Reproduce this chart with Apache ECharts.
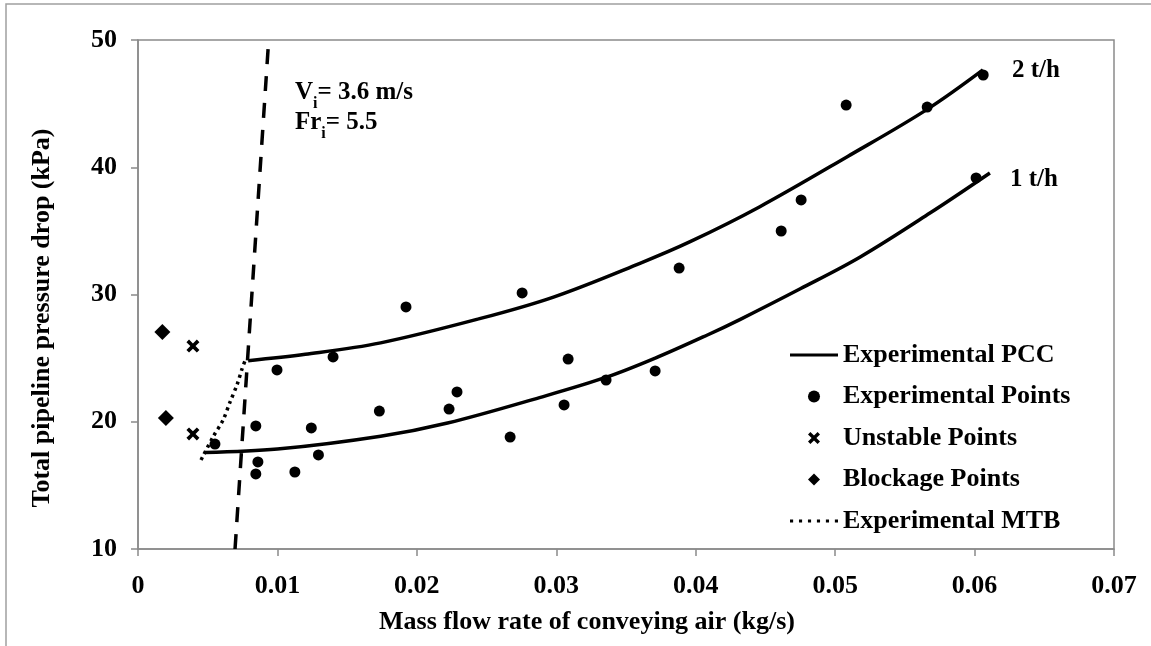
<!DOCTYPE html>
<html>
<head>
<meta charset="utf-8">
<script src="https://cdn.jsdelivr.net/npm/echarts@6/dist/echarts.min.js"></script>
<style>
html,body{margin:0;padding:0;background:#fff;}
#chart{width:1151px;height:646px;}
</style>
</head>
<body>
<div id="chart"></div>
<script>
// ---- data ----
var xTickLabels = ['0', '0.01', '0.02', '0.03', '0.04', '0.05', '0.06', '0.07'];
var yTickLabels = ['10', '20', '30', '40', '50'];

// Experimental points (kg/s, kPa)
var expPoints = [
  [0.00552, 18.25], [0.00997, 24.07], [0.01399, 25.09], [0.00845, 19.67],
  [0.00860, 16.84], [0.00845, 15.90], [0.01125, 16.05], [0.01243, 19.51],
  [0.01294, 17.39], [0.01731, 20.84], [0.01922, 29.02], [0.02231, 21.00],
  [0.02288, 22.34], [0.02669, 18.80], [0.02755, 30.12], [0.03056, 21.32],
  [0.03085, 24.93], [0.03357, 23.28], [0.03709, 23.99], [0.03881, 32.08],
  [0.04613, 34.99], [0.04756, 37.43], [0.05079, 44.89], [0.05660, 44.73],
  [0.06062, 47.25], [0.06011, 39.16]
];
var unstablePoints = [[0.00394, 25.95], [0.00394, 19.04]];
var blockagePoints = [[0.00175, 27.05], [0.00200, 20.30]];

// Experimental PCC curves
var pcc1 = [
  [0.0048, 17.58], [0.0100, 17.85], [0.0174, 18.86], [0.0222, 19.90],
  [0.0288, 21.90], [0.0336, 23.50], [0.0371, 25.00], [0.0408, 26.80],
  [0.0432, 28.05], [0.0475, 30.45], [0.0518, 32.95], [0.0568, 36.40],
  [0.0611, 39.55]
];
var pcc2 = [
  [0.0079, 24.80], [0.0120, 25.30], [0.0174, 26.20], [0.0245, 28.10],
  [0.0298, 29.80], [0.0360, 32.45], [0.0396, 34.15], [0.0446, 36.90],
  [0.0509, 40.85], [0.0566, 44.55], [0.0606, 47.65]
];
// Experimental MTB (dotted)
var mtb = [
  [0.00452, 17.00], [0.00538, 18.80], [0.00610, 20.14], [0.00660, 21.55],
  [0.00710, 22.90], [0.00746, 24.15], [0.00768, 24.80]
];
// V_i = 3.6 m/s line (dashed)
var viLine = [[0.00696, 10.0], [0.00933, 49.3]];

var FONT = "'Liberation Serif', 'Times New Roman', serif";
var chart = echarts.init(document.getElementById('chart'));

var option = {
  backgroundColor: '#ffffff',
  animation: false,
  grid: {
    left: 138, right: 37, top: 40, bottom: 97,
    show: true, borderColor: '#8a8a8a', borderWidth: 1.5, backgroundColor: 'transparent'
  },
  xAxis: {
    type: 'value', min: 0, max: 0.07, interval: 0.01,
    axisLine: { show: true, lineStyle: { color: '#8a8a8a', width: 1.5 } },
    axisTick: { show: true, inside: false, length: 7, lineStyle: { color: '#8a8a8a', width: 1.5 } },
    splitLine: { show: false },
    axisLabel: {
      margin: 24, color: '#000', fontFamily: FONT, fontWeight: 'bold', fontSize: 26,
      formatter: function (v) { return xTickLabels[Math.round(v / 0.01)]; }
    }
  },
  yAxis: {
    type: 'value', min: 10, max: 50, interval: 10,
    axisLine: { show: true, lineStyle: { color: '#8a8a8a', width: 1.5 } },
    axisTick: { show: true, inside: false, length: 7, lineStyle: { color: '#8a8a8a', width: 1.5 } },
    splitLine: { show: false },
    axisLabel: {
      margin: 21, color: '#000', fontFamily: FONT, fontWeight: 'bold', fontSize: 26,
      formatter: function (v) { return yTickLabels[Math.round((v - 10) / 10)]; }
    }
  },
  legend: {
    orient: 'vertical', left: 790, top: 341, padding: 0,
    itemWidth: 48, itemHeight: 12, itemGap: 13.5, symbolKeepAspect: true,
    textStyle: { color: '#000', fontFamily: FONT, fontWeight: 'bold', fontSize: 26, lineHeight: 28 },
    data: [
      { name: 'Experimental PCC', icon: 'path://M0,0H48V3H0Z' },
      { name: 'Experimental Points', icon: 'path://M5,0A5,5,0,1,1,4.99,0Z' },
      { name: 'Unstable Points' },
      { name: 'Blockage Points', icon: 'path://M5,0L10,5L5,10L0,5Z' },
      { name: 'Experimental MTB',
        icon: 'path://M0,0h3v3h-3zM8.6,0h3v3h-3zM17.2,0h3v3h-3zM25.8,0h3v3h-3zM34.4,0h3v3h-3zM43,0h3v3h-3z' }
    ]
  },
  series: [
    {
      name: 'Experimental PCC', type: 'line', data: pcc1, smooth: 0.35, symbol: 'none',
      lineStyle: { color: '#000', width: 3.5 }, itemStyle: { color: '#000' }, z: 3
    },
    {
      name: 'Experimental PCC', type: 'line', data: pcc2, smooth: 0.35, symbol: 'none',
      lineStyle: { color: '#000', width: 3.5 }, itemStyle: { color: '#000' }, z: 3
    },
    {
      name: 'Experimental Points', type: 'scatter', data: expPoints, symbol: 'circle', symbolSize: 11,
      itemStyle: { color: '#000', opacity: 1 }, z: 4
    },
    {
      name: 'Unstable Points', type: 'scatter', data: unstablePoints,
      symbol: 'path://M0,2L2,0L5,3L8,0L10,2L7,5L10,8L8,10L5,7L2,10L0,8L3,5Z',
      symbolSize: 13, itemStyle: { color: '#000', opacity: 1 }, z: 4
    },
    {
      name: 'Blockage Points', type: 'scatter', data: blockagePoints, symbol: 'diamond', symbolSize: 16,
      itemStyle: { color: '#000', opacity: 1 }, z: 4
    },
    {
      name: 'Experimental MTB', type: 'line', data: mtb, smooth: 0.3, symbol: 'none',
      lineStyle: { color: '#000', width: 3.5, type: [3, 4] }, itemStyle: { color: '#000' }, z: 3
    },
    {
      name: 'Vi', type: 'line', data: viLine, symbol: 'none',
      lineStyle: { color: '#000', width: 3.5, type: [15, 12] }, z: 3
    }
  ],
  graphic: [
    { type: 'rect', silent: true, z: -1,
      shape: { x: 6, y: 4, width: 1200, height: 700 },
      style: { fill: 'none', stroke: '#a0a0a0', lineWidth: 1.5 } },
    { type: 'text', x: 587, y: 622, style: {
        text: 'Mass flow rate of conveying air (kg/s)', fill: '#000',
        font: 'bold 26px ' + FONT, textAlign: 'center', textVerticalAlign: 'middle' } },
    { type: 'text', x: 42, y: 318, rotation: Math.PI / 2, style: {
        text: 'Total pipeline pressure drop (kPa)', fill: '#000',
        font: 'bold 26px ' + FONT, textAlign: 'center', textVerticalAlign: 'middle' } },
    { type: 'text', x: 295, y: 93, style: {
        text: '{a|V}{b|i}{a|= 3.6 m/s}', textVerticalAlign: 'middle',
        rich: {
          a: { fill: '#000', font: 'bold 25px ' + FONT, verticalAlign: 'bottom' },
          b: { fill: '#000', font: 'bold 16px ' + FONT, verticalAlign: 'bottom', padding: [0, 0, -6, 0] }
        } } },
    { type: 'text', x: 295, y: 123, style: {
        text: '{a|Fr}{b|i}{a|= 5.5}', textVerticalAlign: 'middle',
        rich: {
          a: { fill: '#000', font: 'bold 25px ' + FONT, verticalAlign: 'bottom' },
          b: { fill: '#000', font: 'bold 16px ' + FONT, verticalAlign: 'bottom', padding: [0, 0, -6, 0] }
        } } },
    { type: 'text', x: 1012, y: 71, style: {
        text: '2 t/h', fill: '#000', font: 'bold 25px ' + FONT, textVerticalAlign: 'middle' } },
    { type: 'text', x: 1010, y: 180, style: {
        text: '1 t/h', fill: '#000', font: 'bold 25px ' + FONT, textVerticalAlign: 'middle' } }
  ]
};
chart.setOption(option);
</script>
</body>
</html>
